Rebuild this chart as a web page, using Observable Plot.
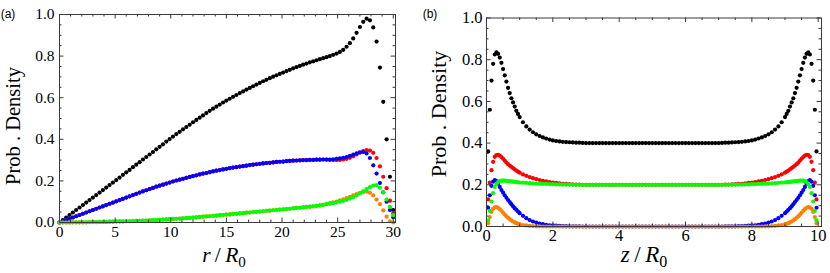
<!DOCTYPE html>
<html><head><meta charset="utf-8">
<script src="https://cdn.jsdelivr.net/npm/d3@7"></script>
<script src="https://cdn.jsdelivr.net/npm/@observablehq/plot@0.6"></script>
<style>
body{margin:0;background:#fff}
#wrap{display:flex;width:830px;height:273px;}
#wrap svg text{font-family:"Liberation Serif","Times New Roman",serif !important;}
#wrap svg text.letter{font-family:"Liberation Sans",Arial,sans-serif !important;}
</style>
</head><body><div id="wrap"></div>
<script>
// ---------- Panel (a): r/R0 ----------
const rA = [0,0.3,0.6,0.9,1.2,1.5,1.8,2.1,2.4,2.7,
3,3.3,3.6,3.9,4.2,4.5,4.8,5.1,5.4,5.7,
6,6.3,6.6,6.9,7.2,7.5,7.8,8.1,8.4,8.7,
9,9.3,9.6,9.9,10.2,10.5,10.8,11.1,11.4,11.7,
12,12.3,12.6,12.9,13.2,13.5,13.8,14.1,14.4,14.7,
15,15.3,15.6,15.9,16.2,16.5,16.8,17.1,17.4,17.7,
18,18.3,18.6,18.9,19.2,19.5,19.8,20.1,20.4,20.7,
21,21.3,21.6,21.9,22.2,22.5,22.8,23.1,23.4,23.7,
24,24.3,24.6,24.9,25.2,25.5,25.8,26.1,26.4,26.7,
27,27.3,27.6,27.9,28.2,28.5,28.8,29.1,29.4,29.7,
30];
const blackA = [0,0.012,0.024,0.036,0.048,0.06,0.072,0.084,0.096,0.108,
0.12,0.132,0.144,0.156,0.168,0.18,0.192,0.204,0.216,0.229,
0.241,0.253,0.266,0.278,0.29,0.303,0.315,0.327,0.339,0.352,
0.364,0.376,0.389,0.401,0.413,0.425,0.436,0.448,0.459,0.47,
0.482,0.493,0.504,0.515,0.526,0.537,0.547,0.557,0.567,0.577,
0.586,0.595,0.604,0.613,0.622,0.63,0.639,0.647,0.655,0.663,
0.671,0.679,0.686,0.694,0.701,0.708,0.715,0.721,0.728,0.734,
0.741,0.747,0.753,0.759,0.764,0.77,0.775,0.78,0.785,0.79,
0.795,0.8,0.806,0.812,0.82,0.83,0.845,0.862,0.885,0.912,
0.94,0.965,0.98,0.972,0.938,0.87,0.745,0.58,0.4,0.22,
0.06];
const redA = [0,0.006,0.012,0.018,0.024,0.03,0.036,0.042,0.048,0.054,
0.06,0.066,0.072,0.078,0.084,0.09,0.096,0.102,0.108,0.114,
0.12,0.126,0.132,0.138,0.144,0.15,0.155,0.161,0.166,0.172,
0.177,0.182,0.187,0.192,0.197,0.202,0.206,0.21,0.215,0.219,
0.223,0.227,0.231,0.235,0.238,0.242,0.246,0.249,0.252,0.255,
0.258,0.261,0.264,0.266,0.269,0.271,0.273,0.276,0.278,0.28,
0.282,0.284,0.286,0.287,0.289,0.291,0.292,0.293,0.295,0.296,
0.297,0.298,0.299,0.3,0.3,0.301,0.301,0.302,0.302,0.303,
0.302,0.3,0.3,0.3,0.301,0.303,0.306,0.311,0.318,0.327,
0.336,0.343,0.348,0.346,0.335,0.31,0.27,0.22,0.165,0.105,
0.045];
const blueA = [0,0.006,0.012,0.018,0.024,0.03,0.036,0.042,0.048,0.054,
0.06,0.066,0.072,0.078,0.084,0.09,0.096,0.102,0.108,0.114,
0.12,0.126,0.132,0.138,0.144,0.15,0.155,0.161,0.166,0.172,
0.177,0.182,0.187,0.192,0.197,0.202,0.206,0.21,0.215,0.219,
0.223,0.227,0.231,0.235,0.238,0.242,0.246,0.249,0.252,0.255,
0.258,0.261,0.264,0.266,0.269,0.271,0.273,0.276,0.278,0.28,
0.282,0.284,0.286,0.287,0.289,0.291,0.292,0.293,0.295,0.296,
0.297,0.298,0.299,0.3,0.3,0.301,0.301,0.302,0.302,0.303,
0.303,0.303,0.304,0.306,0.308,0.311,0.315,0.32,0.326,0.332,
0.337,0.339,0.332,0.31,0.275,0.235,0.19,0.145,0.1,0.06,
0.025];
const orangeA = [0,0,0,0,0.001,0.001,0.001,0.001,0.001,0.002,
0.002,0.002,0.003,0.003,0.003,0.004,0.004,0.005,0.005,0.005,
0.006,0.006,0.007,0.008,0.008,0.009,0.009,0.01,0.011,0.011,
0.013,0.014,0.015,0.016,0.017,0.018,0.019,0.02,0.021,0.022,
0.024,0.025,0.027,0.028,0.029,0.03,0.032,0.033,0.035,0.036,
0.038,0.039,0.041,0.042,0.044,0.045,0.047,0.048,0.05,0.051,
0.053,0.054,0.056,0.057,0.059,0.06,0.062,0.063,0.065,0.066,
0.068,0.07,0.071,0.073,0.075,0.076,0.078,0.08,0.082,0.085,
0.09,0.093,0.097,0.101,0.106,0.111,0.117,0.123,0.13,0.137,
0.143,0.147,0.148,0.143,0.13,0.11,0.088,0.058,0.028,0.006,
0];
const greenA = [0,0,0,0,0.001,0.001,0.001,0.001,0.001,0.002,
0.002,0.002,0.003,0.003,0.003,0.004,0.004,0.005,0.005,0.005,
0.006,0.006,0.007,0.008,0.008,0.009,0.009,0.01,0.011,0.011,
0.013,0.014,0.015,0.016,0.017,0.018,0.019,0.02,0.021,0.022,
0.024,0.025,0.027,0.028,0.029,0.03,0.032,0.033,0.035,0.036,
0.038,0.039,0.041,0.042,0.044,0.045,0.047,0.048,0.05,0.051,
0.053,0.054,0.056,0.057,0.059,0.06,0.062,0.063,0.065,0.066,
0.068,0.07,0.071,0.073,0.075,0.076,0.078,0.08,0.082,0.085,
0.088,0.09,0.093,0.097,0.1,0.104,0.109,0.115,0.122,0.13,
0.14,0.15,0.16,0.17,0.178,0.18,0.168,0.145,0.11,0.075,
0.035];

// ---------- Panel (b): z/R0 ----------
const zB = [0.05,0.1,0.15,0.2,0.25,0.3,0.35,0.4,0.45,0.5,0.55,0.6,0.65,0.7,0.75,0.8,0.85,0.9,0.95,1,
1.1,1.2,1.3,1.4,1.5,1.6,1.7,1.8,1.9,2,2.1,2.2,2.3,2.4,
2.5,2.6,2.7,2.8,2.9,
3,3.1,3.2,3.3,3.4,3.5,3.6,3.7,3.8,3.9,4,4.1,4.2,4.3,4.4,4.5,4.6,4.7,4.8,4.9,5,
5.1,5.2,5.3,5.4,5.5,5.6,5.7,5.8,5.9,6,6.1,6.2,6.3,6.4,6.5,6.6,6.7,6.8,6.9,7,
7.1,7.2,7.3,7.4,7.5,
7.6,7.7,7.8,7.9,8,8.1,8.2,8.3,8.4,8.5,8.6,8.7,8.8,8.9,
9,9.05,9.1,9.15,9.2,9.25,9.3,9.35,9.4,9.45,9.5,9.55,9.6,9.65,9.7,9.75,9.8,9.85,9.9,9.95];
const blackB = [0.36,0.56,0.7,0.78,0.825,0.835,0.828,0.81,0.785,0.755,0.725,0.695,0.665,0.64,0.615,0.595,0.575,0.555,0.54,0.525,
0.5,0.48,0.465,0.452,0.442,0.434,0.427,0.422,0.417,0.413,0.41,0.408,0.406,0.405,
0.404,0.403,0.402,0.402,0.401,
0.4,0.4,0.4,0.4,0.4,0.4,0.4,0.4,0.4,0.4,0.4,0.4,0.4,0.4,0.4,0.4,0.4,0.4,0.4,0.4,0.4,
0.4,0.4,0.4,0.4,0.4,0.4,0.4,0.4,0.4,0.4,0.4,0.4,0.4,0.4,0.4,0.4,0.4,0.4,0.4,0.4,
0.401,0.402,0.402,0.403,0.404,
0.405,0.406,0.408,0.41,0.413,0.417,0.422,0.427,0.434,0.442,0.452,0.465,0.48,0.5,
0.525,0.54,0.555,0.575,0.595,0.615,0.64,0.665,0.695,0.725,0.755,0.785,0.81,0.828,0.835,0.825,0.78,0.7,0.56,0.36];
const redB = [0.13,0.21,0.27,0.31,0.334,0.343,0.344,0.34,0.333,0.325,0.316,0.307,0.299,0.292,0.286,0.28,0.274,0.268,0.263,0.258,
0.25,0.243,0.237,0.232,0.227,0.223,0.219,0.216,0.213,0.211,0.209,0.207,0.205,0.204,
0.203,0.202,0.201,0.201,0.2,
0.2,0.2,0.2,0.2,0.2,0.2,0.2,0.2,0.2,0.2,0.2,0.2,0.2,0.2,0.2,0.2,0.2,0.2,0.2,0.2,0.2,
0.2,0.2,0.2,0.2,0.2,0.2,0.2,0.2,0.2,0.2,0.2,0.2,0.2,0.2,0.2,0.2,0.2,0.2,0.2,0.2,
0.2,0.201,0.201,0.202,0.203,
0.204,0.205,0.207,0.209,0.211,0.213,0.216,0.219,0.223,0.227,0.232,0.237,0.243,0.25,
0.258,0.263,0.268,0.274,0.28,0.286,0.292,0.299,0.307,0.316,0.325,0.333,0.34,0.344,0.343,0.334,0.31,0.27,0.21,0.13];
const blueB = [0.09,0.15,0.195,0.215,0.222,0.218,0.205,0.19,0.175,0.162,0.15,0.138,0.127,0.117,0.107,0.097,0.088,0.08,0.072,0.064,
0.051,0.04,0.031,0.024,0.019,0.014,0.011,0.008,0.006,0.005,0.004,0.003,0.002,0.002,
0.001,0.001,0.001,0.001,0,
0,0,0,0,0,0,0,0,0,0,0,0,0,0,0,0,0,0,0,0,0,
0,0,0,0,0,0,0,0,0,0,0,0,0,0,0,0,0,0,0,0,
0,0.001,0.001,0.001,0.001,
0.002,0.002,0.003,0.004,0.005,0.006,0.008,0.011,0.014,0.019,0.024,0.031,0.04,0.051,
0.064,0.072,0.08,0.088,0.097,0.107,0.117,0.127,0.138,0.15,0.162,0.175,0.19,0.205,0.218,0.222,0.215,0.195,0.15,0.09];
const orangeB = [0.015,0.045,0.07,0.085,0.092,0.093,0.09,0.083,0.075,0.066,0.057,0.049,0.042,0.035,0.029,0.024,0.02,0.016,0.013,0.011,
0.007,0.005,0.003,0.002,0.001,0.001,0,0,0,0,0,0,0,0,
0,0,0,0,0,
0,0,0,0,0,0,0,0,0,0,0,0,0,0,0,0,0,0,0,0,0,
0,0,0,0,0,0,0,0,0,0,0,0,0,0,0,0,0,0,0,0,
0,0,0,0,0,
0,0,0,0,0,0,0,0,0.001,0.001,0.002,0.003,0.005,0.007,
0.011,0.013,0.016,0.02,0.024,0.029,0.035,0.042,0.049,0.057,0.066,0.075,0.083,0.09,0.093,0.092,0.085,0.07,0.045,0.015];
const greenB = [0.03,0.075,0.12,0.16,0.19,0.205,0.213,0.218,0.22,0.22,0.22,0.219,0.218,0.217,0.216,0.215,0.214,0.213,0.212,0.211,
0.21,0.209,0.208,0.207,0.206,0.205,0.204,0.204,0.203,0.203,0.202,0.202,0.201,0.201,
0.201,0.201,0.2,0.2,0.2,
0.2,0.2,0.2,0.2,0.2,0.2,0.2,0.2,0.2,0.2,0.2,0.2,0.2,0.2,0.2,0.2,0.2,0.2,0.2,0.2,0.2,
0.2,0.2,0.2,0.2,0.2,0.2,0.2,0.2,0.2,0.2,0.2,0.2,0.2,0.2,0.2,0.2,0.2,0.2,0.2,0.2,
0.2,0.2,0.2,0.201,0.201,
0.201,0.201,0.202,0.202,0.203,0.203,0.204,0.204,0.205,0.206,0.207,0.208,0.209,0.21,
0.211,0.212,0.213,0.214,0.215,0.216,0.217,0.218,0.219,0.22,0.22,0.22,0.218,0.213,0.205,0.19,0.16,0.12,0.075,0.03];

// ---------- ticks ----------
const yMajor = [0,0.2,0.4,0.6,0.8,1.0];
const yMinor = [0.05,0.1,0.15,0.25,0.3,0.35,0.45,0.5,0.55,0.65,0.7,0.75,0.85,0.9,0.95];
const xMajorA = [0,5,10,15,20,25,30];
const xMinorA = [1,2,3,4,6,7,8,9,11,12,13,14,16,17,18,19,21,22,23,24,26,27,28,29];
const xMajorB = [0,2,4,6,8,10];
const xMinorB = [0.5,1,1.5,2.5,3,3.5,4.5,5,5.5,6.5,7,7.5,8.5,9,9.5];

const seriesNames = ["black","red","blue","orange","green"];
const seriesColors = ["#000000","#ff0000","#0000ff","#ff8000","#00ff00"];

for (const [nm, xs, arrs] of [["A", rA, [blackA,redA,blueA,orangeA,greenA]], ["B", zB, [blackB,redB,blueB,orangeB,greenB]]]) {
  arrs.forEach((a, i) => { if (a.length !== xs.length) throw new Error(`panel ${nm} series ${seriesNames[i]} length ${a.length} != ${xs.length}`); });
}

const SERIF = "Liberation Serif";
const W = 415, H = 273;
function panel(cfg) {
  const innerW = W - cfg.ml - cfg.mr, innerH = H - cfg.mt - cfg.mb;
  const ts = "#3a3a3a";
  const maj = 4.5, min = 2.5;
  const marks = [];
  cfg.values.forEach((vals, i) => {
    const data = cfg.xs.map((x, j) => ({x, y: vals[j]}));
    marks.push(Plot.dot(data, {x: "x", y: "y", r: 2.1, fill: seriesColors[i], stroke: "none"}));
  });
  marks.push(
    Plot.tickX(cfg.xMajor, {x: d => d, insetTop: innerH - maj, stroke: ts}),
    Plot.tickX(cfg.xMinor, {x: d => d, insetTop: innerH - min, stroke: ts}),
    Plot.tickX(cfg.xMajor, {x: d => d, insetBottom: innerH - maj, stroke: ts}),
    Plot.tickX(cfg.xMinor, {x: d => d, insetBottom: innerH - min, stroke: ts}),
    Plot.tickY(yMajor, {y: d => d, insetRight: innerW - maj, stroke: ts}),
    Plot.tickY(yMinor, {y: d => d, insetRight: innerW - min, stroke: ts}),
    Plot.tickY(yMajor, {y: d => d, insetLeft: innerW - maj, stroke: ts}),
    Plot.tickY(yMinor, {y: d => d, insetLeft: innerW - min, stroke: ts}),
    Plot.frame({stroke: ts, strokeWidth: 1}),
    Plot.axisX(cfg.xMajor, {tickSize: 0, tickPadding: cfg.xPad, fontSize: cfg.tickFont, fontFamily: SERIF, fill: "#000", label: null}),
    Plot.axisY(yMajor, {tickSize: 0, tickPadding: cfg.yPad, fontSize: cfg.tickFont, fontFamily: SERIF, fill: "#000", label: null, tickFormat: d3.format(".1f")})
  );
  const svg = Plot.plot({
    width: W, height: H,
    marginLeft: cfg.ml, marginRight: cfg.mr, marginTop: cfg.mt, marginBottom: cfg.mb,
    x: {domain: cfg.xDomain, label: null},
    y: {domain: [0, 1], label: null},
    style: {fontFamily: SERIF, fontSize: cfg.tickFont + "px", background: "#fff", color: "#000", overflow: "visible"},
    marks
  });
  const s = d3.select(svg);
  s.append("text")
    .attr("transform", `translate(${cfg.ylx},${cfg.yly}) rotate(-90)`)
    .attr("text-anchor", "middle").attr("dominant-baseline", "central")
    .attr("font-size", cfg.labFont).attr("fill", "#000")
    .text("Prob . Density");
  const t = s.append("text")
    .attr("x", cfg.xlx).attr("y", cfg.xly).attr("text-anchor", "middle")
    .attr("font-size", cfg.labFont + 1).attr("fill", "#000");
  t.append("tspan").attr("font-style", "italic").text(cfg.varName);
  t.append("tspan").text("\u2009/\u2009");
  t.append("tspan").attr("font-style", "italic").text("R");
  t.append("tspan").attr("font-size", "70%").attr("dy", "0.3em").text("0");
  s.append("text").attr("class", "letter").attr("x", cfg.letX).attr("y", 18)
    .attr("font-size", 12).attr("fill", "#000")
    .text(cfg.letter);
  return svg;
}

const wrap = document.getElementById("wrap");
wrap.appendChild(panel({
  xs: rA, values: [blackA, redA, blueA, orangeA, greenA],
  ml: 59, mr: 20, mt: 14, mb: 51, xDomain: [0, 30.2],
  xMajor: xMajorA, xMinor: xMinorA, tickFont: 15.5, xPad: 3, yPad: 5,
  labFont: 20.5, ylx: 13, yly: 126, xlx: 224, xly: 262, varName: "r",
  letter: "(a)", letX: 8
}));
wrap.appendChild(panel({
  xs: zB, values: [blackB, redB, blueB, orangeB, greenB],
  ml: 71, mr: 9, mt: 17.5, mb: 47, xDomain: [0, 10.1],
  xMajor: xMajorB, xMinor: xMinorB, tickFont: 16.5, xPad: 3, yPad: 4,
  labFont: 22, ylx: 23, yly: 114, xlx: 229, xly: 262, varName: "z",
  letter: "(b)", letX: 15
}));
</script>
</body></html>
